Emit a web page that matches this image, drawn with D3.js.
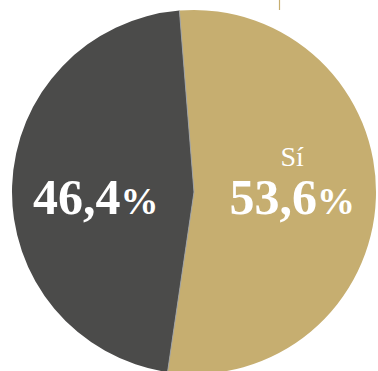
<!DOCTYPE html>
<html>
<head>
<meta charset="utf-8">
<script src="https://cdn.jsdelivr.net/npm/d3@7"></script>
<style>
  html, body { margin: 0; padding: 0; background: #fff; }
  svg { display: block; }
</style>
</head>
<body>
<svg id="chart" width="378" height="371"></svg>
<script>
// Referendum result: share of votes
const categories = ["Sí", "No"];
const values = [53.6, 46.4];
const valueLabels = ["53,6", "46,4"];
const showName = [true, false];
const colors = ["#c6ae70", "#4b4b4a"];

const width = 378, height = 371;
const cx = 194, cy = 192, radius = 182;

const svg = d3.select("#chart");
const g = svg.append("g").attr("transform", `translate(${cx},${cy})`);

const startAngle = -4.6 * Math.PI / 180;
const pie = d3.pie()
  .sort(null)
  .value(d => d.value)
  .startAngle(startAngle)
  .endAngle(startAngle + 2 * Math.PI);

const data = categories.map((c, i) => ({ name: c, value: values[i], label: valueLabels[i], showName: showName[i], color: colors[i] }));
const arcs = pie(data);

const arc = d3.arc().innerRadius(0).outerRadius(radius);

g.selectAll("path.slice")
  .data(arcs)
  .join("path")
  .attr("class", "slice")
  .attr("d", arc)
  .attr("fill", d => d.data.color);

// thin separators along the slice edges
g.selectAll("line.sep")
  .data(arcs)
  .join("line")
  .attr("class", "sep")
  .attr("x1", 0).attr("y1", 0)
  .attr("x2", d => radius * Math.sin(d.startAngle))
  .attr("y2", d => -radius * Math.cos(d.startAngle))
  .attr("stroke", "#a3a6a8")
  .attr("stroke-width", 0.9);

// leader tick at the top
svg.append("line")
  .attr("x1", 279.5).attr("x2", 279.5)
  .attr("y1", 0).attr("y2", 10)
  .attr("stroke", colors[0])
  .attr("stroke-width", 1.2);

// value labels
const labelArc = d3.arc().innerRadius(radius * 0.54).outerRadius(radius * 0.54);
const font = "'Liberation Serif', 'Times New Roman', serif";

arcs.forEach(d => {
  const [lx] = labelArc.centroid(d);
  const t = g.append("text")
    .attr("x", lx)
    .attr("y", 22)
    .attr("text-anchor", "middle")
    .attr("fill", "#fff")
    .attr("font-family", font)
    .attr("font-weight", "bold")
    .attr("font-size", 50);
  t.append("tspan").text(d.data.label);
  t.append("tspan").attr("font-size", 38).text("%");

  if (d.data.showName) {
    g.append("text")
      .attr("x", lx)
      .attr("y", -26)
      .attr("text-anchor", "middle")
      .attr("fill", "#fff")
      .attr("font-family", font)
      .attr("font-size", 28)
      .text(d.data.name);
  }
});
</script>
</body>
</html>
